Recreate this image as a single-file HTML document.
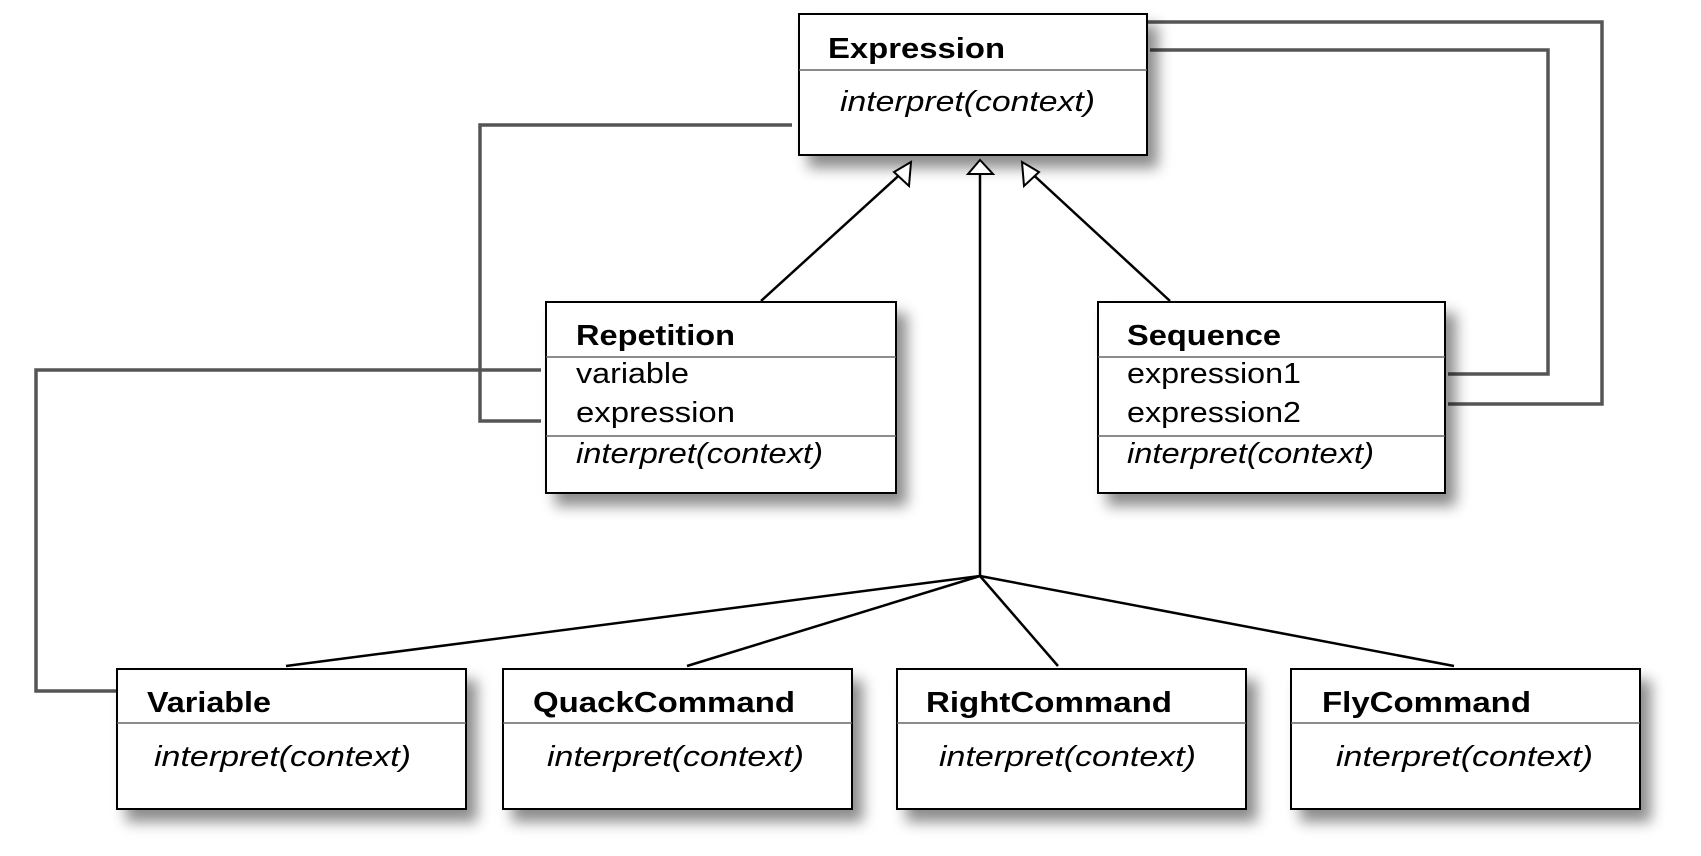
<!DOCTYPE html>
<html><head><meta charset="utf-8"><style>
html,body{margin:0;padding:0;background:#fff;width:1701px;height:856px;overflow:hidden}
svg{display:block}
text{font-family:"Liberation Sans",Arial,sans-serif;font-size:29px;fill:#000}
.b{font-weight:bold}
.i{font-style:italic}
</style></head><body>
<svg width="1701" height="856" viewBox="0 0 1701 856" xmlns="http://www.w3.org/2000/svg">
<defs>
<filter id="sh" x="-10%" y="-10%" width="130%" height="140%">
<feDropShadow dx="10" dy="12" stdDeviation="7" flood-color="#000" flood-opacity="0.45"/>
</filter>
</defs>
<g fill="none" stroke="#555" stroke-width="3.5">
<polyline points="792,125 480,125 480,421 541,421"/>
<polyline points="541,370 36,370 36,691 116,691"/>
<polyline points="1147,22 1602,22 1602,404 1448,404"/>
<polyline points="1150,50 1548,50 1548,374 1448,374"/>
</g>
<g fill="#fff" stroke="#000" stroke-width="2" filter="url(#sh)">
<rect x="799" y="14" width="348" height="141"/>
<rect x="546" y="302" width="350" height="191"/>
<rect x="1098" y="302" width="347" height="191"/>
<rect x="117" y="669" width="349" height="140"/>
<rect x="503" y="669" width="349" height="140"/>
<rect x="897" y="669" width="349" height="140"/>
<rect x="1291" y="669" width="349" height="140"/>
</g>
<g stroke="#666" stroke-width="1.5">
<line x1="799" y1="70" x2="1147" y2="70"/>
<line x1="546" y1="357" x2="896" y2="357"/><line x1="546" y1="436" x2="896" y2="436"/>
<line x1="1098" y1="357" x2="1445" y2="357"/><line x1="1098" y1="436" x2="1445" y2="436"/>
<line x1="117" y1="723" x2="466" y2="723"/><line x1="503" y1="723" x2="852" y2="723"/>
<line x1="897" y1="723" x2="1246" y2="723"/><line x1="1291" y1="723" x2="1640" y2="723"/>
</g>
<g stroke="#000" stroke-width="2.5" fill="none">
<line x1="761" y1="301" x2="906" y2="169"/>
<line x1="1170" y1="301" x2="1027" y2="169"/>
<line x1="980" y1="174" x2="980" y2="576"/>
<line x1="980" y1="576" x2="286" y2="666"/>
<line x1="980" y1="576" x2="687" y2="666"/>
<line x1="980" y1="576" x2="1058" y2="666"/>
<line x1="980" y1="576" x2="1454" y2="666"/>
</g>
<g stroke="#000" stroke-width="2" fill="#fff">
<polygon points="980,160 968,174 993,174"/>
<polygon points="911,162 909,186 894,172"/>
<polygon points="1022,162 1039,172 1024,186"/>
</g>
<text class="b" x="828" y="58" textLength="177" lengthAdjust="spacingAndGlyphs">Expression</text>
<text class="i" x="840" y="111" textLength="255" lengthAdjust="spacingAndGlyphs">interpret(context)</text>
<text class="b" x="576" y="345" textLength="159" lengthAdjust="spacingAndGlyphs">Repetition</text>
<text x="576" y="383" textLength="113" lengthAdjust="spacingAndGlyphs">variable</text>
<text x="576" y="422" textLength="159" lengthAdjust="spacingAndGlyphs">expression</text>
<text class="i" x="576" y="463" textLength="247" lengthAdjust="spacingAndGlyphs">interpret(context)</text>
<text class="b" x="1127" y="345" textLength="154" lengthAdjust="spacingAndGlyphs">Sequence</text>
<text x="1127" y="383" textLength="174" lengthAdjust="spacingAndGlyphs">expression1</text>
<text x="1127" y="422" textLength="174" lengthAdjust="spacingAndGlyphs">expression2</text>
<text class="i" x="1127" y="463" textLength="247" lengthAdjust="spacingAndGlyphs">interpret(context)</text>
<text class="b" x="147" y="712" textLength="124" lengthAdjust="spacingAndGlyphs">Variable</text>
<text class="b" x="533" y="712" textLength="262" lengthAdjust="spacingAndGlyphs">QuackCommand</text>
<text class="b" x="926" y="712" textLength="246" lengthAdjust="spacingAndGlyphs">RightCommand</text>
<text class="b" x="1322" y="712" textLength="209" lengthAdjust="spacingAndGlyphs">FlyCommand</text>
<text class="i" x="154" y="766" textLength="257" lengthAdjust="spacingAndGlyphs">interpret(context)</text>
<text class="i" x="547" y="766" textLength="257" lengthAdjust="spacingAndGlyphs">interpret(context)</text>
<text class="i" x="939" y="766" textLength="257" lengthAdjust="spacingAndGlyphs">interpret(context)</text>
<text class="i" x="1336" y="766" textLength="257" lengthAdjust="spacingAndGlyphs">interpret(context)</text>
</svg>
</body></html>
